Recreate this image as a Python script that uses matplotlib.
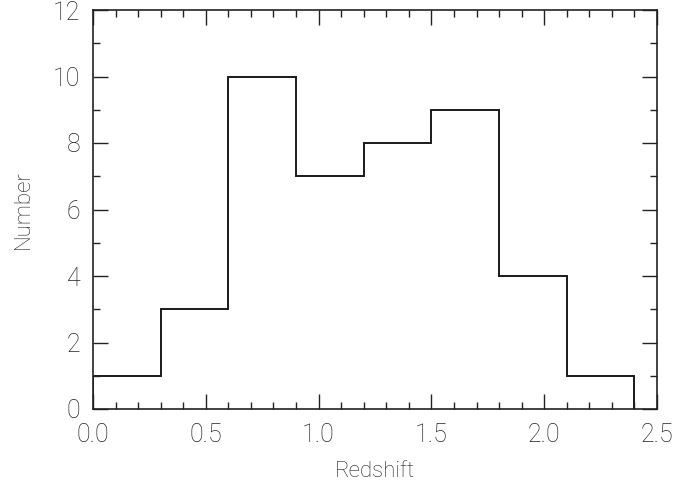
import numpy as np
import matplotlib.pyplot as plt
from matplotlib.ticker import MultipleLocator

# histogram of redshifts, bin width 0.3
bin_edges = [0.0, 0.3, 0.6, 0.9, 1.2, 1.5, 1.8, 2.1, 2.4]
counts = [1, 3, 10, 7, 8, 9, 4, 1]

plt.rcParams['font.family'] = ['Roboto', 'DejaVu Sans']
plt.rcParams['font.weight'] = 'light'
plt.rcParams['axes.labelweight'] = 'light'

fig = plt.figure(figsize=(6.99, 4.87), dpi=100)
ax = fig.add_axes([93 / 699, 1 - 409 / 487, (657 - 93) / 699, (409 - 10) / 487])

ax.stairs(counts, bin_edges, color='#1a1a1a', linewidth=1.4)

ax.set_xlim(0, 2.5)
ax.set_ylim(0, 12)
ax.xaxis.set_major_locator(MultipleLocator(0.5))
ax.xaxis.set_minor_locator(MultipleLocator(0.1))
ax.yaxis.set_major_locator(MultipleLocator(2))
ax.yaxis.set_minor_locator(MultipleLocator(1))
ax.xaxis.set_major_formatter(plt.FormatStrFormatter('%.1f'))

ax.tick_params(which='both', direction='in', top=True, right=True,
               width=1.0, color='#222222', labelsize=18, labelcolor='#222222')
ax.tick_params(which='major', length=11)
ax.tick_params(axis='x', which='major', pad=10)
ax.tick_params(axis='y', which='major', pad=9)
ax.tick_params(which='minor', length=5)
for s in ax.spines.values():
    s.set_linewidth(1.2)
    s.set_color('#222222')

ax.set_xlabel('Redshift', fontsize=16, color='#222222', labelpad=10)
ax.set_ylabel('Number', fontsize=16, color='#222222', labelpad=14)

fig.savefig('out.png', dpi=100)
